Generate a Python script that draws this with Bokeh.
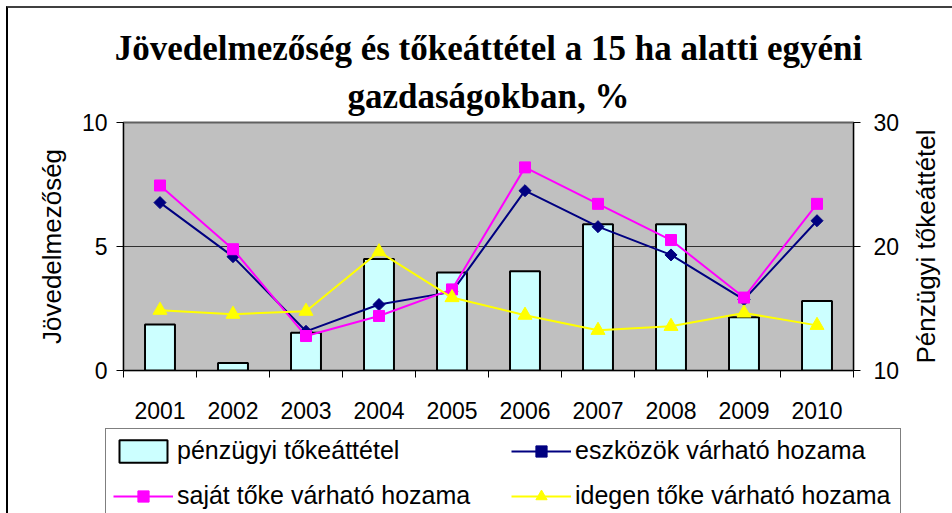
import math
from bokeh.plotting import figure
from bokeh.layouts import column, row
from bokeh.models import (Range1d, LinearAxis, FixedTicker, Legend, LegendItem, Label, Title)
from bokeh.embed import file_html
from bokeh.resources import INLINE

years = ["2001", "2002", "2003", "2004", "2005", "2006", "2007", "2008", "2009", "2010"]
penzugyi_tokeattetel = [13.7, 10.6, 13.05, 19.0, 17.9, 18.0, 21.8, 21.8, 14.3, 15.6]
eszkozok_hozama = [6.77, 4.59, 1.58, 2.66, 3.17, 7.25, 5.80, 4.66, 2.86, 6.04]
sajat_toke_hozama = [7.46, 4.89, 1.39, 2.20, 3.27, 8.19, 6.72, 5.26, 2.94, 6.72]
idegen_toke_hozama = [2.43, 2.27, 2.39, 4.79, 2.94, 2.23, 1.62, 1.78, 2.32, 1.82]
left_ticks = [0, 5, 10]
right_ticks = [10, 20, 30]
title_lines = ["Jövedelmezőség és tőkeáttétel a 15 ha alatti egyéni", "gazdaságokban, %"]
series_names = ["pénzügyi tőkeáttétel", "eszközök várható hozama",
                "saját tőke várható hozama", "idegen tőke várható hozama"]
right_label = "Pénzügyi tőkeáttétel"
left_label = "Jövedelmezőség"

BAR_FILL = "#CCFFFF"
NAVY = "#000080"
MAGENTA = "#FF00FF"
YELLOW = "#FFFF00"

xs = list(range(1, len(years) + 1))
bounds = [i + 0.5 for i in range(0, len(years) + 1)]

TOTAL_W = 944
MAIN_W, MAIN_H = 904, 420
TOP, BOTTOM, LEFT = 114, 58, 115
LEG_H = 85


def strip(width, height, xr, yr, **borders):
    f = figure(width=width, height=height, output_backend="svg", toolbar_location=None,
               title=None, x_axis_type=None, y_axis_type=None,
               x_range=xr, y_range=yr, **borders)
    f.outline_line_color = None
    f.background_fill_color = "white"
    f.border_fill_color = "white"
    return f


# ---- main chart ----
p = figure(width=MAIN_W, height=MAIN_H, output_backend="svg", toolbar_location=None,
           title=None,
           x_range=Range1d(0.5, len(years) + 0.5), y_range=Range1d(0, 10),
           min_border_left=LEFT, min_border_right=MAIN_W - 845, min_border_top=TOP,
           min_border_bottom=BOTTOM)

p.background_fill_color = "#C0C0C0"
p.border_fill_color = "white"
p.outline_line_color = "#606060"
p.outline_line_width = 2

p.extra_y_ranges = {"right": Range1d(10, 30)}

# title: two centred lines
t2 = Title(text=title_lines[1], align="center", text_font="Liberation Serif",
           text_font_style="bold", text_font_size="35px", text_color="black",
           standoff=14)
t1 = Title(text=title_lines[0], align="center", text_font="Liberation Serif",
           text_font_style="bold", text_font_size="35px", text_color="black",
           standoff=0)
p.add_layout(t2, "above")
p.add_layout(t1, "above")

# x axis
xa = p.xaxis[0]
xa.ticker = FixedTicker(ticks=xs, minor_ticks=bounds)
xa.major_label_overrides = {x: y for x, y in zip(xs, years)}
xa.major_tick_out = 0
xa.major_tick_in = 0
xa.minor_tick_out = 7
xa.minor_tick_in = 0
xa.minor_tick_line_color = "black"
xa.axis_line_color = "black"
xa.major_label_standoff = 24
xa.major_label_text_font = "Liberation Sans"
xa.major_label_text_font_size = "23px"
xa.major_label_text_color = "black"

# left axis
ya = p.yaxis[0]
ya.ticker = FixedTicker(ticks=left_ticks)
ya.major_tick_out = 7
ya.major_tick_in = 0
ya.minor_tick_out = 0
ya.minor_tick_in = 0
ya.axis_line_color = "black"
ya.major_tick_line_color = "black"
ya.major_label_standoff = 9
ya.major_label_text_font = "Liberation Sans"
ya.major_label_text_font_size = "23px"
ya.major_label_text_color = "black"
ya.axis_label = left_label
ya.axis_label_text_font = "Liberation Sans"
ya.axis_label_text_font_size = "26px"
ya.axis_label_text_font_style = "normal"
ya.axis_label_text_color = "black"
ya.axis_label_standoff = 12

# right axis
ra = LinearAxis(y_range_name="right", ticker=FixedTicker(ticks=right_ticks))
ra.major_tick_out = 7
ra.major_tick_in = 0
ra.minor_tick_out = 0
ra.minor_tick_in = 0
ra.axis_line_color = "black"
ra.major_tick_line_color = "black"
ra.major_label_standoff = 13
ra.major_label_text_font = "Liberation Sans"
ra.major_label_text_font_size = "23px"
ra.major_label_text_color = "black"
p.add_layout(ra, "right")

# grid
p.xgrid.visible = False
p.ygrid.ticker = FixedTicker(ticks=[5])
p.ygrid.grid_line_color = "#303030"
p.ygrid.grid_line_width = 1

# bars
p.vbar(x=xs, top=penzugyi_tokeattetel, bottom=10, width=0.41,
       y_range_name="right", fill_color=BAR_FILL, line_color="black", line_width=2)

# lines
p.line(xs, eszkozok_hozama, line_color=NAVY, line_width=2)
p.scatter(xs, eszkozok_hozama, marker="square", angle=math.pi / 4, size=8.5,
          fill_color=NAVY, line_color=NAVY)
p.line(xs, sajat_toke_hozama, line_color=MAGENTA, line_width=2)
p.scatter(xs, sajat_toke_hozama, marker="square", size=11,
          fill_color=MAGENTA, line_color=MAGENTA)
p.line(xs, idegen_toke_hozama, line_color=YELLOW, line_width=2)
p.scatter(xs, idegen_toke_hozama, marker="triangle", size=14,
          fill_color=YELLOW, line_color=YELLOW)

# ---- right-hand axis title (reads bottom to top) ----
RL_W = TOTAL_W - MAIN_W
rl = strip(RL_W, MAIN_H, Range1d(0, RL_W), Range1d(0, 10),
           min_border_left=0, min_border_right=0, min_border_top=TOP,
           min_border_bottom=BOTTOM)
rl.add_layout(Label(x=13, y=5, text=right_label, angle=math.pi / 2,
                    text_align="center", text_baseline="middle",
                    text_font="Liberation Sans", text_font_size="26px",
                    text_color="black"))

# ---- legend strip ----
lg = strip(TOTAL_W, LEG_H, Range1d(0, 1), Range1d(0, 1),
           min_border_left=97, min_border_right=0, min_border_top=0,
           min_border_bottom=0)
# legend key stand-ins, placed outside the visible range
kb = lg.vbar(x=[-5], top=[-5], bottom=-6, width=0.4, fill_color=BAR_FILL,
             line_color="black", line_width=2)
k1l = lg.line([-5, -6], [-5, -6], line_color=NAVY, line_width=2)
k1s = lg.scatter([-5], [-5], marker="square", angle=math.pi / 4, size=8.5,
                 fill_color=NAVY, line_color=NAVY)
k2l = lg.line([-5, -6], [-5, -6], line_color=MAGENTA, line_width=2)
k2s = lg.scatter([-5], [-5], marker="square", size=11, fill_color=MAGENTA,
                 line_color=MAGENTA)
k3l = lg.line([-5, -6], [-5, -6], line_color=YELLOW, line_width=2)
k3s = lg.scatter([-5], [-5], marker="triangle", size=14, fill_color=YELLOW,
                 line_color=YELLOW)

legend = Legend(items=[
    LegendItem(label=series_names[0], renderers=[kb]),
    LegendItem(label=series_names[1], renderers=[k1l, k1s]),
    LegendItem(label=series_names[2], renderers=[k2l, k2s]),
    LegendItem(label=series_names[3], renderers=[k3l, k3s]),
], orientation="horizontal", ncols=2, location="top_left")
legend.label_text_font = "Liberation Sans"
legend.label_text_font_size = "25px"
legend.label_text_color = "black"
legend.glyph_width = 60
legend.glyph_height = 28
legend.label_standoff = 4
legend.label_width = 318
legend.spacing = 16
legend.padding = 7
legend.margin = 0
legend.border_line_color = "black"
legend.border_line_width = 1
legend.background_fill_color = "white"
legend.background_fill_alpha = 1
lg.add_layout(legend)

layout = column(row(p, rl), lg)
layout.styles = {"margin-top": "6px", "margin-left": "6px",
                 "border-top": "2px solid #404040", "border-left": "2px solid #000000"}

open("out.html", "w").write(file_html(layout, INLINE))
